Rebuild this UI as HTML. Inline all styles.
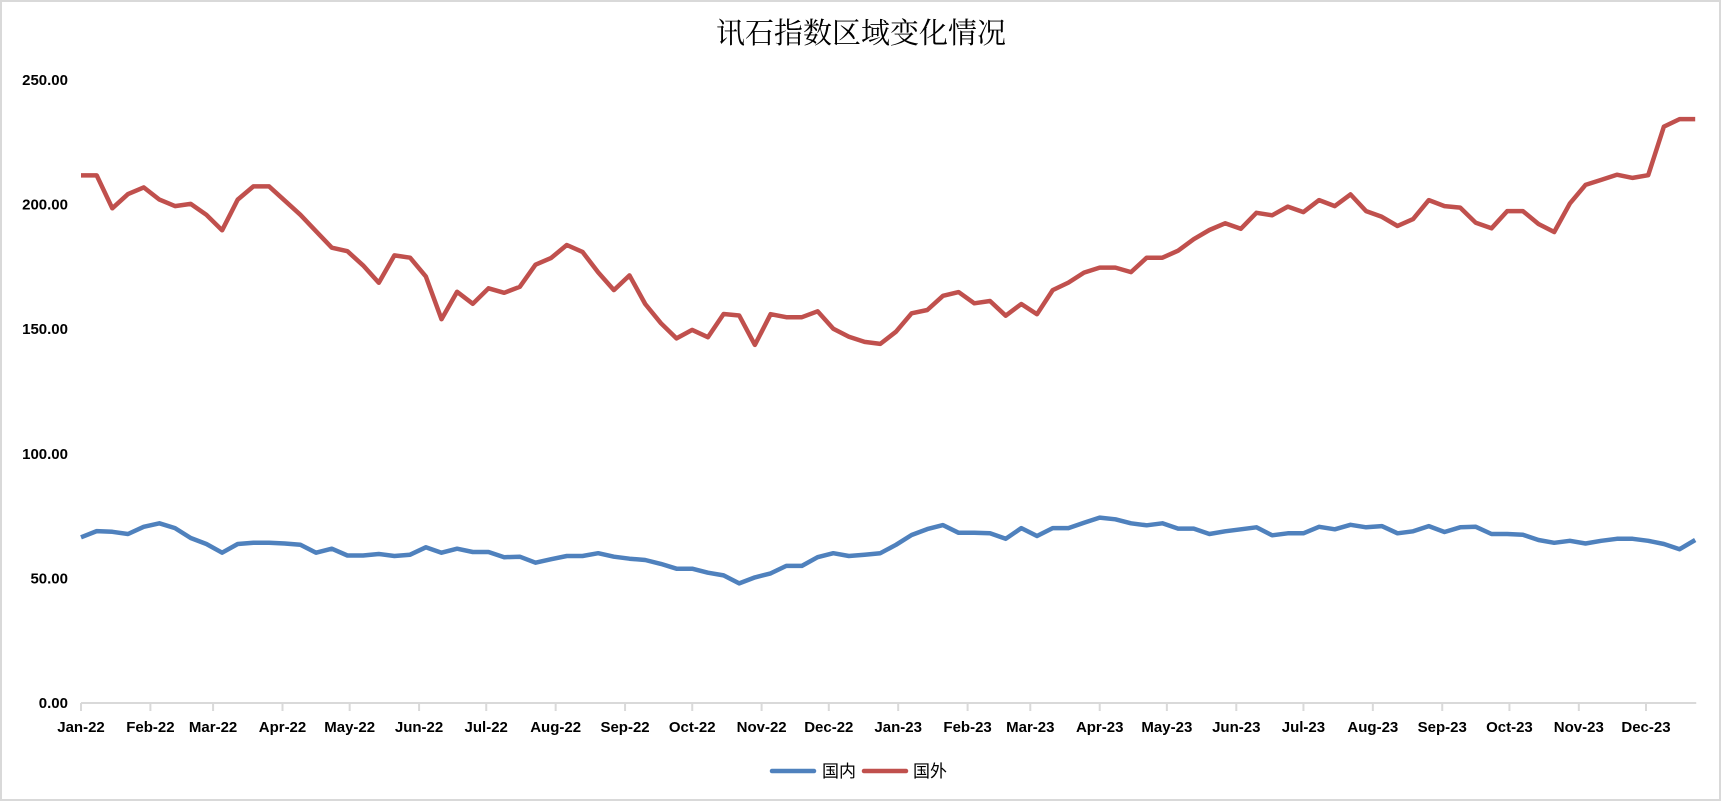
<!DOCTYPE html>
<html><head><meta charset="utf-8"><style>
html,body{margin:0;padding:0;background:#fff;}
#wrap{position:relative;width:1722px;height:802px;overflow:hidden;}
svg text{font-family:"Liberation Sans","Noto Sans CJK SC",sans-serif;}
</style></head><body>
<div id="wrap">
<svg id="chart" width="1722" height="802" xmlns="http://www.w3.org/2000/svg">
<rect x="1" y="1" width="1719" height="799" fill="#fff" stroke="#d9d9d9" stroke-width="2"/>
<text x="861" y="43" text-anchor="middle" font-size="29" style="font-family:'Liberation Serif','Noto Serif CJK SC',serif" fill="#000">讯石指数区域变化情况</text>
<g id="yaxis"></g>
<g id="xaxis"></g>
<g id="series"></g>
<g>
<g>
<line x1="772" y1="771" x2="814" y2="771" stroke="#4f81bd" stroke-width="4.5" stroke-linecap="round"/>
<text x="822" y="777" font-size="17" fill="#000">国内</text></g>
<g>
<line x1="864" y1="771" x2="906" y2="771" stroke="#c0504d" stroke-width="4.5" stroke-linecap="round"/>
<text x="913" y="777" font-size="17" fill="#000">国外</text></g>
</g>
</svg>
</div>
<script>
const yTicks = [0, 50, 100, 150, 200, 250];
const monthLabels = ["Jan-22","Feb-22","Mar-22","Apr-22","May-22","Jun-22","Jul-22","Aug-22","Sep-22","Oct-22","Nov-22","Dec-22","Jan-23","Feb-23","Mar-23","Apr-23","May-23","Jun-23","Jul-23","Aug-23","Sep-23","Oct-23","Nov-23","Dec-23"];
const domestic = [66.5,69,68.7,67.8,70.7,72.1,70.2,66.2,63.8,60.3,63.8,64.3,64.3,64,63.5,60.3,61.9,59.2,59.2,59.8,59,59.5,62.5,60.3,61.9,60.6,60.6,58.5,58.7,56.3,57.7,59,59,60.1,58.7,57.9,57.4,55.8,53.9,53.9,52.3,51.2,48,50.4,52,55,55,58.5,60.1,59,59.5,60.1,63.5,67.4,69.8,71.4,68.3,68.3,68.1,65.9,70.2,67,70.2,70.2,72.3,74.4,73.7,72.1,71.3,72.1,70,70,67.8,68.9,69.7,70.5,67.3,68.1,68.1,70.7,69.7,71.5,70.5,71,68.1,68.9,71,68.6,70.5,70.7,67.8,67.8,67.5,65.4,64.3,65.1,64,65.1,65.9,65.9,65.1,63.8,61.7,65.4];
const overseas = [211.7,211.7,198.5,204.2,206.9,202,199.4,200.3,195.9,189.7,202,207.3,207.3,201.6,195.9,189.3,182.7,181.3,175.6,168.6,179.6,178.7,171.2,154,165,160.2,166.4,164.6,167,175.9,178.6,183.8,181,172.8,165.7,171.6,160.1,152.4,146.3,149.7,146.8,156.1,155.5,143.7,156,154.8,154.8,157.2,150.2,147,144.9,144.1,149,156.4,157.7,163.4,164.9,160.4,161.3,155.4,160.1,156,165.7,168.7,172.7,174.7,174.7,172.9,178.7,178.7,181.5,186.1,189.8,192.5,190.3,196.7,195.7,199.2,197,201.8,199.4,204.1,197.4,195.1,191.4,194.2,201.8,199.4,198.8,192.7,190.5,197.4,197.4,192.2,189,200.5,207.9,209.9,212,210.7,211.8,231.3,234.3,234.3];

const NS = "http://www.w3.org/2000/svg";
const X0 = 81, PXDAY = 2.2389, Y0 = 703, PXUNIT = 2.492;
const start = Date.UTC(2022,0,1);
function xDay(d){ return X0 + d*PXDAY; }
function xIdx(i){ return xDay(i*7); }
function yVal(v){ return Y0 - v*PXUNIT; }
function mk(tag, attrs, parent){ const e=document.createElementNS(NS,tag); for(const k in attrs) e.setAttribute(k, attrs[k]); parent.appendChild(e); return e; }

const yg = document.getElementById('yaxis');
yTicks.forEach(v=>{
  const t = mk('text',{x:68,y:yVal(v)+5,'text-anchor':'end','font-size':15,'font-weight':'bold',fill:'#000'},yg);
  
  
  t.textContent = v.toFixed(2);
});

const xg = document.getElementById('xaxis');
const axisEnd = xIdx(overseas.length-1);
const al = mk('line',{x1:X0,y1:Y0,x2:axisEnd+1,y2:Y0,stroke:'#d9d9d9','stroke-width':2},xg);


monthLabels.forEach((lab,m)=>{
  const d = (Date.UTC(2022+Math.floor(m/12), m%12, 1) - start)/86400000;
  const x = xDay(d);
  const tk = mk('line',{x1:x,y1:Y0,x2:x,y2:Y0+8,stroke:'#d9d9d9','stroke-width':2},xg);
  
  
  const t = mk('text',{x:x,y:Y0+29,'text-anchor':'middle','font-size':15,'font-weight':'bold',fill:'#000'},xg);
  
  
  t.textContent = lab;
});

const sg = document.getElementById('series');
function drawLine(arr, color, name){
  const pts = arr.map((v,i)=> xIdx(i).toFixed(1)+','+yVal(v).toFixed(1)).join(' ');
  const p = mk('polyline',{points:pts,fill:'none',stroke:color,'stroke-width':4.5,'stroke-linejoin':'round','stroke-linecap':'butt'},sg);
  
  
}
drawLine(domestic, '#4f81bd', 'series-domestic-line');
drawLine(overseas, '#c0504d', 'series-overseas-line');
</script>
</body></html>
